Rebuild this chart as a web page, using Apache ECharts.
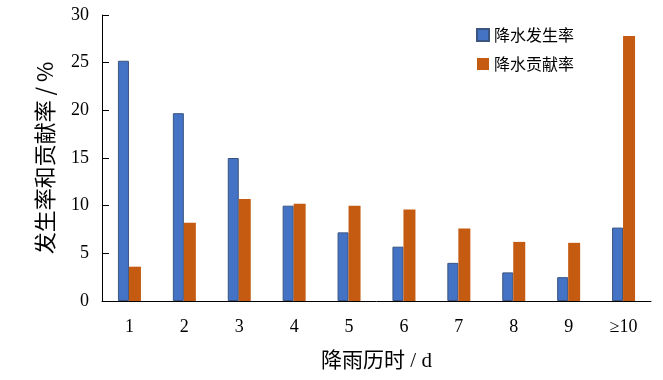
<!DOCTYPE html>
<html><head><meta charset="utf-8">
<script src="https://cdn.jsdelivr.net/npm/echarts@6/dist/echarts.min.js"></script>
<style>html,body{margin:0;padding:0;background:#fff}#c{width:663px;height:380px}</style>
</head><body><div id="c"></div>
<script>
const categories = ['1','2','3','4','5','6','7','8','9','≥10'];
const occurrence = [25.2, 19.7, 15.0, 10.0, 7.2, 5.7, 4.0, 3.0, 2.5, 7.7];
const contribution = [3.6, 8.2, 10.7, 10.2, 10.0, 9.6, 7.6, 6.2, 6.1, 27.8];
const seriesNames = ['降水发生率', '降水贡献率'];
const yTicks = [0, 5, 10, 15, 20, 25, 30];

const serif = '"Liberation Serif", "Times New Roman", "Noto Sans CJK SC", serif';
const cjk = '"Liberation Serif", "Noto Sans CJK SC", sans-serif';
const chart = echarts.init(document.getElementById('c'));
chart.setOption({
  animation: false,
  grid: {left: 102, right: 12, top: 15, bottom: 79},
  legend: {
    orient: 'vertical', left: 471, top: 22, itemWidth: 12, itemHeight: 12, itemGap: 13,
    icon: 'rect',
    textStyle: {fontFamily: '"Noto Sans CJK SC", sans-serif', fontSize: 16, color: '#000'},
    data: seriesNames
  },
  xAxis: {
    type: 'category', data: categories,
    name: '降雨历时 / d', nameLocation: 'middle', nameGap: 50,
    nameTextStyle: {fontFamily: cjk, fontSize: 21, color: '#000'},
    axisLine: {lineStyle: {color: '#000', width: 1}},
    axisTick: {inside: true, length: 7, lineStyle: {color: '#000'}},
    axisLabel: {fontFamily: serif, fontSize: 18, color: '#000', margin: 17}
  },
  yAxis: {
    type: 'value', min: yTicks[0], max: yTicks[yTicks.length-1], interval: 5,
    name: '发生率和贡献率 / %', nameLocation: 'middle', nameGap: 46,
    nameTextStyle: {fontFamily: '"Noto Sans CJK SC", sans-serif', fontSize: 22, color: '#000'},
    axisLine: {show: true, lineStyle: {color: '#000', width: 1}},
    axisTick: {show: true, inside: true, length: 7, lineStyle: {color: '#000'}},
    axisLabel: {fontFamily: serif, fontSize: 18, color: '#000', margin: 13},
    splitLine: {show: false}
  },
  series: [
    {name: seriesNames[0], type: 'bar', data: occurrence, barWidth: 11, barGap: '0%',
     itemStyle: {color: '#4472c4', borderColor: '#3a5580', borderWidth: 1}},
    {name: seriesNames[1], type: 'bar', data: contribution, barWidth: 12, barGap: '0%',
     itemStyle: {color: '#c55a11'}}
  ]
});
</script></body></html>
